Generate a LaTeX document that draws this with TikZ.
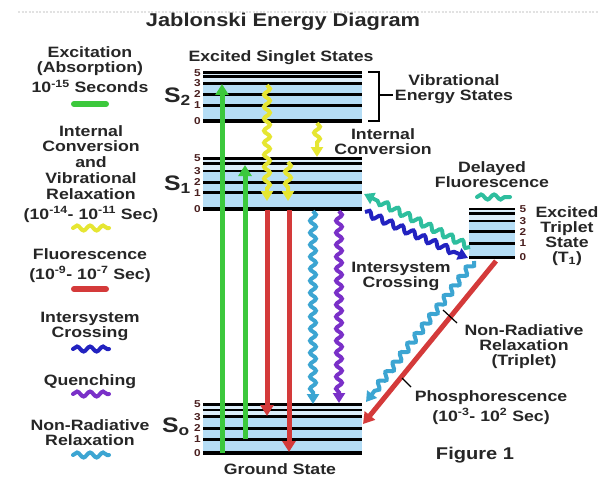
\documentclass[tikz,border=0pt]{standalone}
\usepackage{fontspec}
\setmainfont{Liberation Sans}[FakeStretch=1.18]
\usetikzlibrary{arrows.meta,decorations.pathmorphing}
\definecolor{txt}{HTML}{262626}
\definecolor{lvlblue}{HTML}{B5DDF5}
\definecolor{lvlpale}{HTML}{DCEEFA}
\definecolor{exgreen}{HTML}{3CC83C}
\definecolor{icyellow}{HTML}{E6E632}
\definecolor{flred}{HTML}{D43A3A}
\definecolor{iscblue}{HTML}{2222C0}
\definecolor{qpurple}{HTML}{7A30C8}
\definecolor{nrblue}{HTML}{3CA5D2}
\definecolor{dfteal}{HTML}{2EBE9E}
\definecolor{digit}{HTML}{4A2020}
\definecolor{dotgray}{HTML}{E2E2E2}
\begin{document}
\begin{tikzpicture}[x=1pt,y=-1pt,
  lbl/.style={font=\bfseries\fontsize{15}{15}\selectfont, text=txt, align=center, inner sep=0pt, anchor=north},
  lblsup/.style={lbl, font=\bfseries\fontsize{15}{20}\selectfont},
  slbl/.style={font=\bfseries\fontsize{21}{21}\selectfont, text=txt, inner sep=0pt, anchor=west},
  digitlbl/.style={font=\bfseries\fontsize{10}{10}\selectfont, text=digit, inner sep=0pt},
  lvl/.style={line width=2.6pt, black},
  lvlzero/.style={line width=3.6pt, black},
  straightarrow/.style={line width=5pt, -{Triangle[width=13pt,length=11pt]}},
  wavy/.style={line width=4pt, decorate, decoration={snake, amplitude=3pt, segment length=12pt, post length=10pt}, -{Triangle[width=12pt,length=10pt]}},
  legendbar/.style={line width=6pt, line cap=round},
  legendwave/.style={line width=4pt, line cap=round, decorate, decoration={snake, amplitude=2.5pt, segment length=13pt}},
  leader/.style={line width=1.2pt, black}
]
\useasboundingbox (0,0) rectangle (599,476);
\fill[white] (0,0) rectangle (599,476);
\draw[dotgray, line width=2.5pt, dash pattern=on 2pt off 1.5pt] (18,12) -- (599,12);

% ---------- title ----------
\node[font=\bfseries\fontsize{18.5}{20}\selectfont, text=txt, inner sep=0pt] (title) at (283,22) {Jablonski Energy Diagram};

% ---------- level stacks ----------
% S2
\fill[lvlpale] (203,72.7) rectangle (362,83.3);
\fill[lvlblue] (203,83.3) rectangle (362,120.7);
\foreach \y in {72.7,76.7,83.3,94.3,105.3} \draw[lvl] (203,\y) -- (362,\y);
\draw[lvlzero] (203,120.7) -- (362,120.7);
\foreach \d/\y in {5/72.7,3/83.3,2/94.3,1/105.3,0/120.7} \node[digitlbl] (sTwoD\d) at (197.5,\y) {\d};
% S1
\fill[lvlpale] (203,158.3) rectangle (362,171);
\fill[lvlblue] (203,171) rectangle (362,209);
\foreach \y in {158.3,163.3,171,182.3,192.7} \draw[lvl] (203,\y) -- (362,\y);
\draw[lvlzero] (203,209) -- (362,209);
\foreach \d/\y in {5/158.3,3/171,2/182.3,1/192.7,0/209} \node[digitlbl] (sOneD\d) at (197.5,\y) {\d};
% S0
\fill[lvlpale] (203,404.3) rectangle (362,416.7);
\fill[lvlblue] (203,416.7) rectangle (362,452.7);
\foreach \y in {404.3,410,416.7,428.3,439.3} \draw[lvl] (203,\y) -- (362,\y);
\draw[lvlzero] (203,452.7) -- (362,452.7);
\foreach \d/\y in {5/404.3,3/416.7,2/428.3,1/439.3,0/452.7} \node[digitlbl] (sZeroD\d) at (197.5,\y) {\d};
% T1
\fill[lvlpale] (469,209) rectangle (515,221);
\fill[lvlblue] (469,221) rectangle (515,257.3);
\foreach \y in {209,213.3,221,231.7,243.3} \draw[lvl] (469,\y) -- (515,\y);
\draw[lvlzero] (469,257.3) -- (515,257.3);
\foreach \d/\y in {5/209,3/221,2/231.7,1/243.3,0/257.3} \node[digitlbl] (tOneD\d) at (523,\y) {\d};

% state labels
\node[slbl] (sTwo) at (164,97) {S\textsubscript{2}};
\node[slbl] (sOne) at (164,185) {S\textsubscript{1}};
\node[slbl] (sZero) at (162,427) {S\textsubscript{o}};

% bracket
\coordinate (brTop) at (368,72);
\coordinate (brBot) at (368,121);
\coordinate (brMid) at (379,95);
\coordinate (brTip) at (393,95);
\draw[line width=2pt, black] (brTop) -- (379,72) -- (379,121) -- (brBot);
\draw[line width=2pt, black] (brMid) -- (brTip);

% ---------- coordinates for transitions ----------
\coordinate (gA0) at (222,452.7);  \coordinate (gA1) at (222,84);
\coordinate (gB0) at (245,439.3);  \coordinate (gB1) at (245,165);
\coordinate (yA0) at (267,85);     \coordinate (yA1) at (267,201);
\coordinate (yB0) at (288,162);    \coordinate (yB1) at (288,201);
\coordinate (yC0) at (317,123);    \coordinate (yC1) at (317,157);
\coordinate (rA0) at (267,210);    \coordinate (rA1) at (267,416);
\coordinate (rB0) at (289,210);    \coordinate (rB1) at (289,452);
\coordinate (nA0) at (313,211);    \coordinate (nA1) at (313,404);
\coordinate (qA0) at (339,211);    \coordinate (qA1) at (339,403);
\coordinate (dF0) at (470,247);    \coordinate (dF1) at (364,194);
\coordinate (iS0) at (365,212);    \coordinate (iS1) at (468,258);
\coordinate (nT0) at (474,261);    \coordinate (nT1) at (366,402);
\coordinate (pH0) at (496,261);    \coordinate (pH1) at (363,424);

% ---------- transitions ----------
\draw[straightarrow, exgreen] (gA0) -- (gA1);
\draw[straightarrow, exgreen] (gB0) -- (gB1);
\draw[wavy, icyellow] (yA0) -- (yA1);
\draw[wavy, icyellow] (yB0) -- (yB1);
\draw[wavy, icyellow] (yC0) -- (yC1);
\draw[straightarrow, flred] (rA0) -- (rA1);
\draw[straightarrow, flred] (rB0) -- (rB1);
\draw[wavy, nrblue] (nA0) -- (nA1);
\draw[wavy, qpurple] (qA0) -- (qA1);
\draw[wavy, dfteal] (dF0) -- (dF1);
\draw[wavy, iscblue] (iS0) -- (iS1);
\draw[wavy, nrblue] (nT0) -- (nT1);
\draw[straightarrow, flred] (pH0) -- (pH1);

% leaders
\coordinate (ldA0) at (443,310); \coordinate (ldA1) at (457,323);
\coordinate (ldB0) at (402,378); \coordinate (ldB1) at (411,387);
\draw[leader] (ldA0) -- (ldA1);
\draw[leader] (ldB0) -- (ldB1);

% ---------- right-hand labels ----------
\node[lbl] (singlet) at (281,50) {Excited Singlet States};
\node[lbl] (vib) at (454,74) {Vibrational\\Energy States};
\node[lbl] (ic) at (383,128) {Internal\\Conversion};
\node[lbl] (delayed) at (492,161) {Delayed\\Fluorescence};
\node[lbl] (triplet) at (567,206) {Excited\\Triplet\\State\\(T\textsubscript{1})};
\node[lbl] (isc) at (401,262) {Intersystem\\Crossing};
\node[lbl] (nrt) at (524,324) {Non-Radiative\\Relaxation\\(Triplet)};
\node[lblsup] (phos) at (491,390) {Phosphorescence\\(10\textsuperscript{-3}- 10\textsuperscript{2} Sec)};
\node[font=\bfseries\fontsize{17}{18}\selectfont, text=txt, inner sep=0pt] (fig) at (475,455) {Figure 1};
\node[lbl] (ground) at (280,463) {Ground State};
\draw[legendwave, dfteal] (477,197) -- (510,197);

% ---------- legend ----------
\node[lbl] (lgExc) at (90,46) {Excitation\\(Absorption)\\[4pt]10\textsuperscript{-15} Seconds};
\draw[legendbar, exgreen] (74,104) -- (106,104);
\node[lbl, font=\bfseries\fontsize{15}{15.8}\selectfont] (lgIC) at (91,125) {Internal\\Conversion\\and\\Vibrational\\Relaxation\\[4pt](10\textsuperscript{-14}- 10\textsuperscript{-11} Sec)};
\draw[legendwave, icyellow] (73,228) -- (109,228);
\node[lblsup] (lgFl) at (90,248) {Fluorescence\\(10\textsuperscript{-9}- 10\textsuperscript{-7} Sec)};
\draw[legendbar, flred] (74,289) -- (106,289);
\node[lbl] (lgISC) at (90,312) {Intersystem\\Crossing};
\draw[legendwave, iscblue] (73,349) -- (109,349);
\node[lbl] (lgQ) at (90,374) {Quenching};
\draw[legendwave, qpurple] (73,394) -- (109,394);
\node[lbl] (lgNR) at (90,419) {Non-Radiative\\Relaxation};
\draw[legendwave, nrblue] (73,455) -- (109,455);
\end{tikzpicture}
\end{document}
